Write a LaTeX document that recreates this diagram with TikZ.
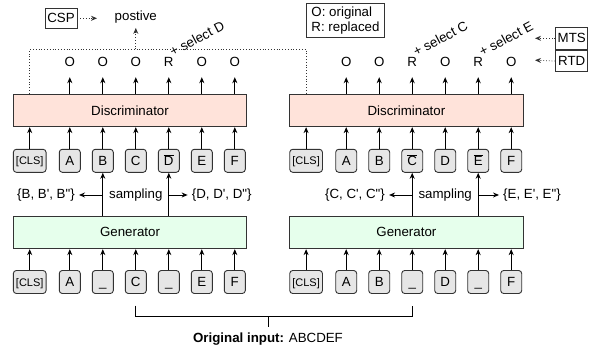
\documentclass[tikz,border=0pt]{standalone}
\usepackage{fontspec}
\setmainfont{Liberation Sans}[Ligatures=TeXOff]
\usetikzlibrary{arrows.meta,calc}
\definecolor{discfill}{HTML}{FFE3DA}
\definecolor{genfill}{HTML}{E6FFEC}
\definecolor{tokfill}{HTML}{E6E6E6}
\definecolor{edge}{HTML}{333333}
\begin{document}
\begin{tikzpicture}[x=1pt,y=-1pt,
  every node/.style={font=\fontsize{13.3}{15}\selectfont, inner sep=0pt},
  model/.style={draw=edge, line width=0.9pt, minimum width=233.4pt, minimum height=32.7pt},
  disc/.style={model, fill=discfill},
  gen/.style={model, fill=genfill},
  tok/.style={draw=edge, line width=0.9pt, fill=tokfill, rounded corners=3pt, minimum width=21pt, minimum height=23pt, text height=9.6pt, text depth=0pt},
  clstok/.style={tok, minimum width=32.7pt, font=\fontsize{11}{13}\selectfont, text height=8pt},
  outl/.style={minimum height=30pt, text height=9.6pt, text depth=0pt},
  lbl/.style={inner sep=4pt},
  arr/.style={line width=0.9pt, -{Stealth[length=6pt,width=5pt]}},
  dotl/.style={draw=edge, line width=0.8pt, dotted},
  dotarr/.style={dotl, -{Stealth[length=6pt,width=5pt]}},
  sel/.style={rotate=28, anchor=base west},
  plainbox/.style={draw=edge, line width=0.9pt},
  brace/.style={line width=0.9pt},
]
\useasboundingbox (0,0) rectangle (594,350);

% ---------------- left panel ----------------
\node[disc] (da) at (130,110.35) {Discriminator};
\node[gen] (ga) at (130,232.35) {Generator};
\node[clstok] (ta0) at (29.7,160.8) {[CLS]};
\node[clstok] (ba0) at (29.7,282) {[CLS]};
\foreach \i/\lab in {1/A,2/B,3/C,4/{$\overline{\mbox{D}}$},5/E,6/F}
  \node[tok] (ta\i) at (36.8+33*\i,160.8) {\lab};
\foreach \i/\lab in {1/A,2/\_,3/C,4/\_,5/E,6/F}
  \node[tok] (ba\i) at (36.8+33*\i,282) {\lab};
\foreach \i/\lab in {1/O,2/O,3/O,4/R,5/O,6/O}
  \node[outl] (oa\i) at (36.8+33*\i,62) {\lab};
\foreach \i in {0,...,6} {
  \draw[arr] (ta\i.north) -- (ta\i.north |- da.south);
  \draw[arr] (ba\i.north) -- (ba\i.north |- ga.south);
}
\foreach \i in {1,...,6}
  \draw[arr] (oa\i.south |- da.north) -- (oa\i.south);
\node (sa) at (135.8,195) {sampling};
\node[lbl] (la) at (46,195) {\{B, B', B"\}};
\node[lbl] (ra) at (221.7,195) {\{D, D', D"\}};
\draw[arr] (ga.north -| ta2) -- (ta2.south);
\draw[arr] (ga.north -| ta4) -- (ta4.south);
\draw[arr] (la -| ta2) -- (la.east);
\draw[arr] (ra -| ta4) -- (ra.west);
\node[sel] (sela) at ($(oa4)+(4,-5)$) {+ select D};

% ---------------- right panel ----------------
\node[disc] (db) at (406.4,110.35) {Discriminator};
\node[gen] (gb) at (406.4,232.35) {Generator};
\node[clstok] (tb0) at (306.1,160.8) {[CLS]};
\node[clstok] (bb0) at (306.1,282) {[CLS]};
\foreach \i/\lab in {1/A,2/B,3/{$\overline{\mbox{C}}$},4/D,5/{$\overline{\mbox{E}}$},6/F}
  \node[tok] (tb\i) at (313.2+33*\i,160.8) {\lab};
\foreach \i/\lab in {1/A,2/B,3/\_,4/D,5/\_,6/F}
  \node[tok] (bb\i) at (313.2+33*\i,282) {\lab};
\foreach \i/\lab in {1/O,2/O,3/R,4/O,5/R,6/O}
  \node[outl] (ob\i) at (313.2+33*\i,62) {\lab};
\foreach \i in {0,...,6} {
  \draw[arr] (tb\i.north) -- (tb\i.north |- db.south);
  \draw[arr] (bb\i.north) -- (bb\i.north |- gb.south);
}
\foreach \i in {1,...,6}
  \draw[arr] (ob\i.south |- db.north) -- (ob\i.south);
\node (sb) at (445.2,195) {sampling};
\node[lbl] (lb) at (355,195) {\{C, C', C"\}};
\node[lbl] (rb) at (532,195) {\{E, E', E"\}};
\draw[arr] (gb.north -| tb3) -- (tb3.south);
\draw[arr] (gb.north -| tb5) -- (tb5.south);
\draw[arr] (lb -| tb3) -- (lb.east);
\draw[arr] (rb -| tb5) -- (rb.west);
\node[sel] (selb) at ($(ob3)+(4,-5)$) {+ select C};
\node[sel] (selc) at ($(ob5)+(4,-5)$) {+ select E};

% ---------------- top annotations ----------------
\coordinate (dtop) at (0,49.3);
\draw[dotl] (da.north -| ta0) -- (ta0 |- dtop) -- (tb0 |- dtop) -- (db.north -| tb0);
\node[inner sep=4.5pt] (pos) at (135.8,17) {postive};
\draw[dotarr] (oa3 |- dtop) -- (pos.south);
\node[plainbox, minimum width=32pt, minimum height=20pt] (csp) at (61,18.3) {CSP};
\coordinate (cspend) at (97,18.3);
\draw[dotarr] (csp.east) -- (cspend);

\node[plainbox, align=left, minimum width=77.6pt, minimum height=33.7pt] (leg) at (345.5,20.2) {O: original\\R: replaced};

\node[plainbox, minimum width=32pt, minimum height=22pt] (mts) at (571.7,38.3) {MTS};
\node[plainbox, minimum width=32pt, minimum height=21.7pt, anchor=north] (rtd) at (mts.south) {RTD};
\coordinate (mtsend) at (535,38.3);
\coordinate (rtdend) at (535,60.2);
\draw[dotarr] (mts.west) -- (mtsend);
\draw[dotarr] (rtd.west) -- (rtdend);

% ---------------- bracket ----------------
\node[inner ysep=5.5pt, anchor=base] (orig) at (268,342.3) {\textbf{Original input:} ABCDEF};
\coordinate (brk) at (268,316.7);
\draw[brace] ([yshift=-11.7pt]ba3.south) |- (brk) -| ([yshift=-11.7pt]bb3.south);
\draw[brace] (brk) -- (brk |- orig.north);
\end{tikzpicture}
\end{document}
